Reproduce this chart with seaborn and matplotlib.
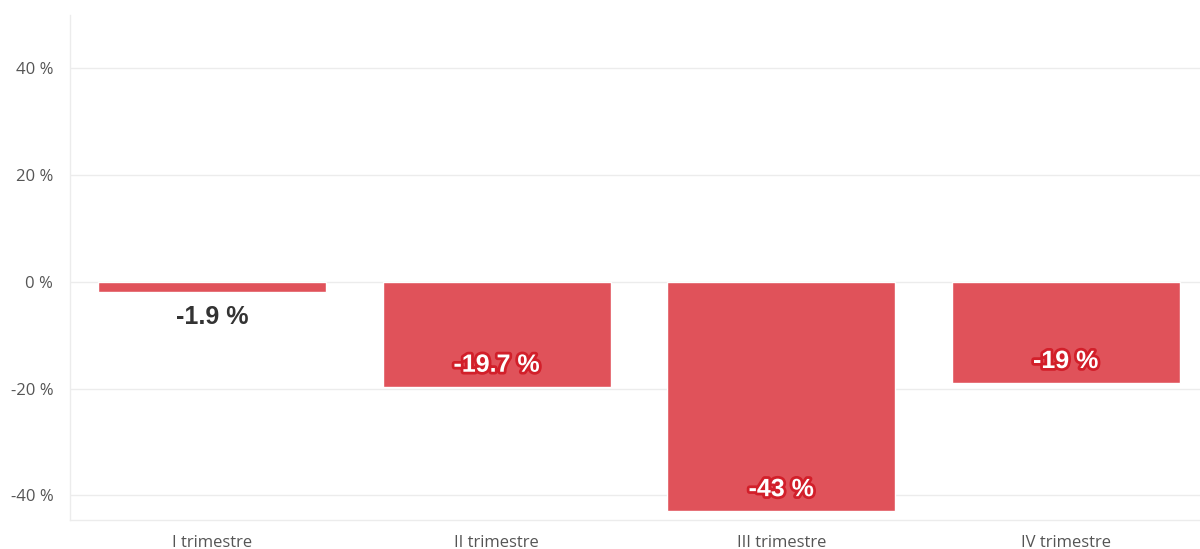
import matplotlib
matplotlib.use("Agg")
import matplotlib.pyplot as plt
import matplotlib.patheffects as pe
import seaborn as sns
import pandas as pd

categories = ["I trimestre", "II trimestre", "III trimestre", "IV trimestre"]
values = [-1.9, -19.7, -43.0, -19.0]
labels = ["-1.9 %", "-19.7 %", "-43 %", "-19 %"]
yticks = [-40, -20, 0, 20, 40]

sns.set_theme(style="white")
plt.rcParams['font.family'] = ['Open Sans', 'DejaVu Sans']

df = pd.DataFrame({"cat": categories, "val": values})
fig = plt.figure(figsize=(12, 5.49), dpi=100)
ax = fig.add_axes([0.0583, 0.053, 0.9484, 0.92])
sns.barplot(data=df, x="cat", y="val", color="#e0525a", saturation=1, width=0.8, ax=ax, zorder=3)
ax.set_ylim(-44.6, 50)
ax.set_xlim(-0.5, 3.5)
ax.set_yticks(yticks)
ax.set_yticklabels([f"{t} %" for t in yticks])
ax.yaxis.grid(True, color="#ececec", linewidth=1, zorder=0)
ax.set_xlabel("")
ax.set_ylabel("")
for s in ["top", "right"]:
    ax.spines[s].set_visible(False)
for s in ["left", "bottom"]:
    ax.spines[s].set_color("#ececec")
    ax.spines[s].set_linewidth(1)
ax.tick_params(axis="y", length=0, pad=12, labelsize=12, labelcolor="#555555")
ax.tick_params(axis="x", length=5, color="#ececec", pad=6, labelsize=12, labelcolor="#555555")

for i, (v, lab) in enumerate(zip(values, labels)):
    if abs(v) < 5:
        ax.annotate(lab, (i, v), xytext=(0, -18), textcoords="offset points",
                    ha="center", va="center", fontsize=18, fontweight="bold", color="#333333",
                    family=["Liberation Sans", "DejaVu Sans"], zorder=5)
    else:
        ax.annotate(lab, (i, v), xytext=(0, 16), textcoords="offset points",
                    ha="center", va="center", fontsize=18, fontweight="bold", color="white", zorder=5,
                    family=["Liberation Sans", "DejaVu Sans"],
                    path_effects=[pe.withStroke(linewidth=4, foreground="#d21f2a")])

fig.savefig("out.png", dpi=100, facecolor="white")
